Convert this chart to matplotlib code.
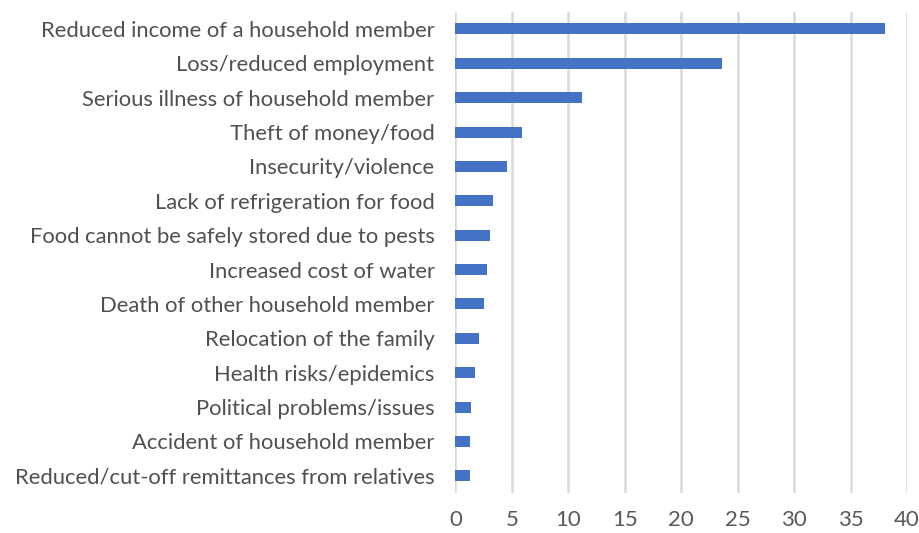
import matplotlib
matplotlib.use("Agg")
import matplotlib.pyplot as plt

categories = [
    "Reduced income of a household member",
    "Loss/reduced employment",
    "Serious illness of household member",
    "Theft of money/food",
    "Insecurity/violence",
    "Lack of refrigeration for food",
    "Food cannot be safely stored due to pests",
    "Increased cost of water",
    "Death of other household member",
    "Relocation of the family",
    "Health risks/epidemics",
    "Political problems/issues",
    "Accident of household member",
    "Reduced/cut-off remittances from relatives",
]
values = [38.0, 23.6, 11.2, 5.9, 4.6, 3.3, 3.1, 2.8, 2.5, 2.1, 1.75, 1.4, 1.3, 1.3]
xticks = [0, 5, 10, 15, 20, 25, 30, 35, 40]

plt.rcParams['font.family'] = ['Lato', 'DejaVu Sans']

fig = plt.figure(figsize=(9.2, 5.33), dpi=100)
ax = fig.add_axes([0.495, 0.075, 0.491, 0.903])

y = list(range(len(categories)))
ax.barh(y, values, height=0.32, color="#4472C4", zorder=3)
ax.set_yticks(y)
ax.set_yticklabels(categories, fontsize=15.8, color="#505050")
ax.set_ylim(len(categories) - 0.5, -0.5)
ax.set_xlim(0, 40)
ax.set_xticks(xticks)
ax.set_xticklabels([str(t) for t in xticks], fontsize=16, color="#595959")
ax.grid(axis="x", color="#D9D9D9", linewidth=1.8, zorder=0)
for s in ax.spines.values():
    s.set_visible(False)
ax.tick_params(axis="both", length=0)
ax.tick_params(axis="y", pad=15)
ax.tick_params(axis="x", pad=12)

fig.savefig("out.png", dpi=100)
